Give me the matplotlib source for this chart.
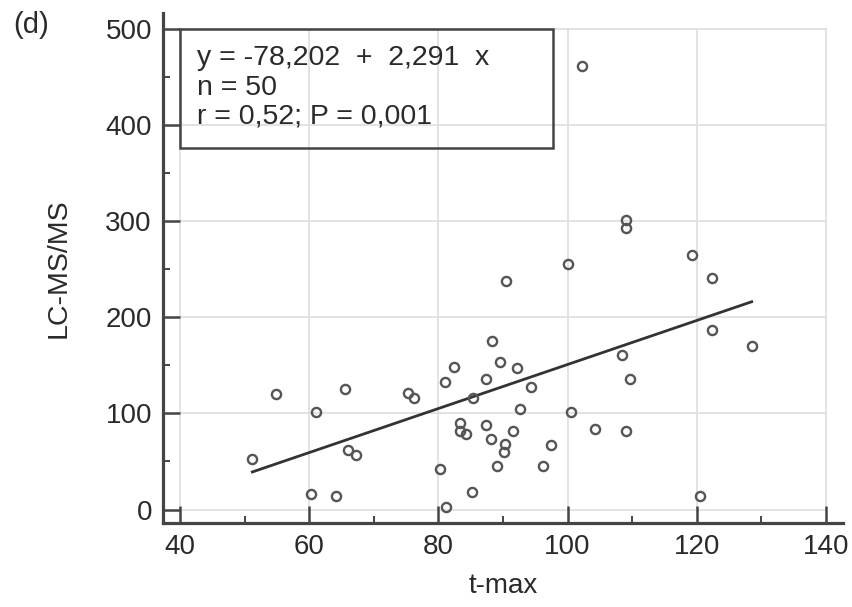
import numpy as np
import matplotlib
matplotlib.use("Agg")
import matplotlib.pyplot as plt
from matplotlib.patches import Rectangle
from matplotlib.ticker import MultipleLocator

# values
t_max = [51.2, 54.8, 60.3, 61.1, 64.1, 65.5, 66.0, 67.3, 75.3, 76.2,
         80.3, 81.0, 81.2, 82.4, 83.4, 83.4, 84.3, 85.2, 85.4, 87.3,
         87.3, 88.1, 88.3, 89.1, 89.5, 90.3, 90.2, 90.4, 91.5, 92.1,
         92.6, 94.3, 96.2, 97.5, 100.1, 100.5, 102.3, 104.2, 108.4, 109.0,
         109.0, 109.1, 109.6, 119.3, 120.5, 122.3, 122.4, 128.5]
lcms = [53, 120, 16, 101, 14, 125, 62, 57, 121, 116,
        42, 133, 3, 148, 90, 82, 79, 18, 116, 136,
        88, 73, 175, 45, 153, 68, 60, 238, 82, 147,
        105, 128, 45, 67, 255, 101, 461, 84, 161, 301,
        293, 82, 136, 265, 14, 241, 187, 170]

intercept = -78.202
slope = 2.291
stats_lines = ["y = -78,202  +  2,291  x", "n = 50", "r = 0,52; P = 0,001"]

plt.rcParams['font.family'] = ['Liberation Sans', 'DejaVu Sans']
txt_col = '#2a2a2a'

fig = plt.figure(figsize=(8.52, 6.07), dpi=100)
ax = fig.add_axes([0.1913, 0.1384, 0.7981, 0.8402])

ax.set_xlim(37.37, 142.63)
ax.set_ylim(-14.0, 516.6)

# grid only over the 40-140 / 0-500 region
for gx in range(40, 141, 20):
    ax.plot([gx, gx], [0, 500], color='#e0e0e0', lw=1.3, zorder=0)
for gy in range(0, 501, 100):
    ax.plot([40, 140], [gy, gy], color='#e0e0e0', lw=1.3, zorder=0)

# regression line over the data range
xl = np.array([min(t_max), max(t_max)])
ax.plot(xl, intercept + slope * xl, color='#333333', lw=2.0, zorder=2)

ax.plot(t_max, lcms, linestyle='none', marker='o', ms=6.6, mfc='none',
        mec='#555555', mew=1.7, zorder=3)

# stats box
ax.add_patch(Rectangle((40, 376), 57.7, 124, fill=False, ec='#444444',
                       lw=1.8, zorder=4))
for ty, line in zip([469.8, 438.6, 408.4], stats_lines):
    ax.text(42.6, ty, line, fontsize=20.5, color=txt_col,
            va='center', ha='left', zorder=5)

for s in ['top', 'right']:
    ax.spines[s].set_visible(False)
for s in ['left', 'bottom']:
    ax.spines[s].set_linewidth(2.3)
    ax.spines[s].set_color('#444444')

ax.set_xticks([40, 60, 80, 100, 120, 140])
ax.set_yticks([0, 100, 200, 300, 400, 500])
ax.set_xticks([50, 70, 90, 110, 130], minor=True)
ax.set_yticks([50, 150, 250, 350, 450], minor=True)

ax.tick_params(which='major', direction='in', length=12, width=1.8,
               color='#444444', labelsize=20, labelcolor=txt_col, pad=8)
ax.tick_params(which='minor', direction='in', length=5, width=1.4,
               color='#444444')

ax.set_xlabel('t-max', fontsize=20, color=txt_col, labelpad=9)
ax.set_ylabel('LC-MS/MS', fontsize=20.5, color=txt_col, labelpad=24)

fig.text(0.015, 0.959, '(d)', fontsize=21, color=txt_col, va='center')

fig.savefig('out.png', dpi=100, facecolor='white')
